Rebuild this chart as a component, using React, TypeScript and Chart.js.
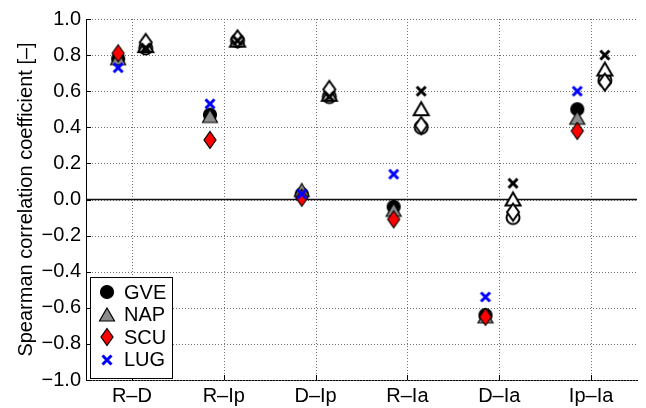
import React, { useEffect, useRef } from 'react';
import { Chart, registerables } from 'chart.js';

Chart.register(...registerables);

// ---- data ----
const categories = ['R–D', 'R–Ip', 'D–Ip', 'R–Ia', 'D–Ia', 'Ip–Ia'];
const seriesNames = ['GVE', 'NAP', 'SCU', 'LUG'];

// filled markers (left of each category)
const gveFilled = [0.78, 0.47, 0.03, -0.04, -0.64, 0.50];
const napFilled = [0.78, 0.46, 0.05, -0.06, -0.65, 0.45];
const scuFilled = [0.81, 0.33, 0.01, -0.11, -0.65, 0.38];
const lugFilled = [0.73, 0.53, 0.03, 0.14, -0.54, 0.60];

// open markers (right of each category)
const gveOpen = [0.84, 0.88, 0.57, 0.40, -0.10, 0.66];
const napOpen = [0.85, 0.88, 0.58, 0.50, 0.00, 0.72];
const scuOpen = [0.87, 0.89, 0.61, 0.41, -0.07, 0.65];
const lugOpen = [0.84, 0.88, 0.57, 0.60, 0.09, 0.80];

const yTickValues = [-1.0, -0.8, -0.6, -0.4, -0.2, 0.0, 0.2, 0.4, 0.6, 0.8, 1.0];
const yTitle = 'Spearman correlation coefficient [–]';

const FONT = "'Liberation Sans', Arial, Helvetica, sans-serif";

type Shape = 'circle' | 'triangle' | 'diamond' | 'x';

function makeMarker(shape: Shape, fill: string, stroke: string, lw: number): HTMLCanvasElement {
  const size = 22;
  const c = document.createElement('canvas');
  c.width = size;
  c.height = size;
  const ctx = c.getContext('2d')!;
  const cx = size / 2;
  const cy = size / 2;
  ctx.lineWidth = lw;
  ctx.strokeStyle = stroke;
  ctx.fillStyle = fill;
  ctx.lineJoin = 'miter';
  ctx.beginPath();
  if (shape === 'circle') {
    ctx.arc(cx, cy, 6.5, 0, Math.PI * 2);
  } else if (shape === 'triangle') {
    ctx.moveTo(cx, cy - 7);
    ctx.lineTo(cx + 7.5, cy + 6);
    ctx.lineTo(cx - 7.5, cy + 6);
    ctx.closePath();
  } else if (shape === 'diamond') {
    ctx.moveTo(cx, cy - 8.5);
    ctx.lineTo(cx + 6, cy);
    ctx.lineTo(cx, cy + 8.5);
    ctx.lineTo(cx - 6, cy);
    ctx.closePath();
  }
  if (shape === 'x') {
    ctx.lineCap = 'butt';
    ctx.moveTo(cx - 4.5, cy - 4.5);
    ctx.lineTo(cx + 4.5, cy + 4.5);
    ctx.moveTo(cx + 4.5, cy - 4.5);
    ctx.lineTo(cx - 4.5, cy + 4.5);
    ctx.stroke();
  } else {
    ctx.fill();
    ctx.stroke();
  }
  return c;
}

function fmtTick(v: number): string {
  if (Math.abs(v) < 1e-9) return '0.0';
  const s = v.toFixed(1);
  return s.replace('-', '\u2212');
}

export default function App() {
  const ref = useRef<HTMLCanvasElement>(null);

  useEffect(() => {
    document.body.style.margin = '0';
    if (!ref.current) return;

    const shapes: Shape[] = ['circle', 'triangle', 'diamond', 'x'];
    const fillColors = ['#000000', '#8c8c8c', '#ff0000', '#0000ff'];
    const filledMarkers = shapes.map((s, i) =>
      s === 'x' ? makeMarker(s, fillColors[i], fillColors[i], 3) : makeMarker(s, fillColors[i], '#000000', 1.2)
    );
    const openMarkers = shapes.map((s) =>
      s === 'x' ? makeMarker(s, '#000000', '#000000', 3) : makeMarker(s, '#ffffff', '#000000', 2)
    );

    const filledSeries = [gveFilled, napFilled, scuFilled, lugFilled];
    const openSeries = [gveOpen, napOpen, scuOpen, lugOpen];
    const OFF = 0.15;
    const toPts = (vals: number[], off: number) => vals.map((v, i) => ({ x: i + 1 + off, y: v }));

    const datasets: any[] = [];
    openSeries.forEach((vals, i) => {
      datasets.push({
        label: seriesNames[i] + ' (open)',
        data: toPts(vals, OFF),
        pointStyle: openMarkers[i],
        pointRadius: 8,
        showLine: false,
      });
    });
    filledSeries.forEach((vals, i) => {
      datasets.push({
        label: seriesNames[i],
        data: toPts(vals, -OFF),
        pointStyle: filledMarkers[i],
        pointRadius: 8,
        showLine: false,
      });
    });
    const n = datasets.length;
    datasets.forEach((d, i) => (d.order = n - i));

    const decorPlugin = {
      id: 'decor',
      beforeDatasetsDraw(chart: any) {
        const { ctx, chartArea } = chart;
        const ys = chart.scales.y;
        const xs = chart.scales.x;
        ctx.save();
        // dotted grid
        ctx.strokeStyle = '#707070';
        ctx.lineWidth = 1;
        ctx.setLineDash([1, 2]);
        ctx.beginPath();
        yTickValues.forEach((v) => {
          const py = Math.round(ys.getPixelForValue(v)) + 0.5;
          ctx.moveTo(chartArea.left, py);
          ctx.lineTo(chartArea.right, py);
        });
        categories.forEach((_, i) => {
          const px = Math.round(xs.getPixelForValue(i + 1)) + 0.5;
          ctx.moveTo(px, chartArea.top);
          ctx.lineTo(px, chartArea.bottom);
        });
        ctx.stroke();
        ctx.setLineDash([]);
        // zero line
        const y0 = ys.getPixelForValue(0);
        ctx.strokeStyle = '#111111';
        ctx.lineWidth = 1.5;
        ctx.beginPath();
        ctx.moveTo(chartArea.left, y0);
        ctx.lineTo(chartArea.right, y0);
        ctx.stroke();
        // inward tick marks
        ctx.strokeStyle = '#000000';
        ctx.lineWidth = 1;
        ctx.beginPath();
        yTickValues.forEach((v) => {
          const py = Math.round(ys.getPixelForValue(v)) + 0.5;
          ctx.moveTo(chartArea.left, py);
          ctx.lineTo(chartArea.left + 5, py);
        });
        categories.forEach((_, i) => {
          const px = Math.round(xs.getPixelForValue(i + 1)) + 0.5;
          ctx.moveTo(px, chartArea.bottom);
          ctx.lineTo(px, chartArea.bottom - 5);
        });
        ctx.stroke();
        ctx.restore();
      },
      afterDatasetsDraw(chart: any) {
        const { ctx, chartArea } = chart;
        const x0 = Math.round(chartArea.left) + 4;
        const y0 = Math.round(chartArea.bottom) - 103;
        const w = 82;
        const h = 101;
        ctx.save();
        ctx.fillStyle = '#ffffff';
        ctx.fillRect(x0, y0, w, h);
        ctx.strokeStyle = '#000000';
        ctx.lineWidth = 1;
        ctx.strokeRect(x0 + 0.5, y0 + 0.5, w, h);
        ctx.font = `20px ${FONT}`;
        ctx.fillStyle = '#000000';
        ctx.textBaseline = 'middle';
        ctx.textAlign = 'left';
        seriesNames.forEach((name, i) => {
          const cy = y0 + 15 + i * 22.6;
          const img = filledMarkers[i];
          ctx.drawImage(img, Math.round(x0 + 17 - img.width / 2), Math.round(cy - img.height / 2));
          ctx.fillText(name, x0 + 34, cy + 1);
        });
        ctx.restore();
      },
    };

    const chart = new Chart(ref.current, {
      type: 'scatter',
      data: { datasets },
      options: {
        responsive: false,
        animation: false,
        devicePixelRatio: 1,
        layout: { padding: { top: 19, right: 4, left: 0, bottom: 0 } },
        plugins: {
          legend: { display: false },
          tooltip: { enabled: false },
        },
        scales: {
          x: {
            type: 'linear',
            min: 0.5,
            max: 6.5,
            afterBuildTicks: (s: any) => {
              s.ticks = categories.map((_, i) => ({ value: i + 1 }));
            },
            afterFit: (s: any) => {
              s.height = 28;
            },
            ticks: {
              callback: (v: any) => categories[Math.round(Number(v)) - 1] ?? '',
              font: { size: 20, family: FONT },
              color: '#000000',
              padding: 4,
              autoSkip: false,
              maxRotation: 0,
            },
            grid: { display: false, drawTicks: false },
            border: { display: true, color: '#000000', width: 1 },
          },
          y: {
            type: 'linear',
            min: -1,
            max: 1,
            afterBuildTicks: (s: any) => {
              s.ticks = yTickValues.map((v) => ({ value: v }));
            },
            afterFit: (s: any) => {
              s.width = 86;
            },
            ticks: {
              callback: (v: any) => fmtTick(Number(v)),
              font: { size: 20, family: FONT },
              color: '#000000',
              padding: 5,
            },
            grid: { display: false, drawTicks: false },
            border: { display: true, color: '#000000', width: 1 },
            title: {
              display: true,
              text: yTitle,
              font: { size: 20, family: FONT },
              color: '#000000',
              padding: { top: 14, bottom: 0 },
            },
          },
        },
      },
      plugins: [decorPlugin],
    });

    return () => chart.destroy();
  }, []);

  return (
    <div style={{ position: 'absolute', left: 0, top: 0, width: 646, height: 408, background: '#ffffff' }}>
      <canvas ref={ref} width={646} height={408} style={{ display: 'block' }} />
    </div>
  );
}
